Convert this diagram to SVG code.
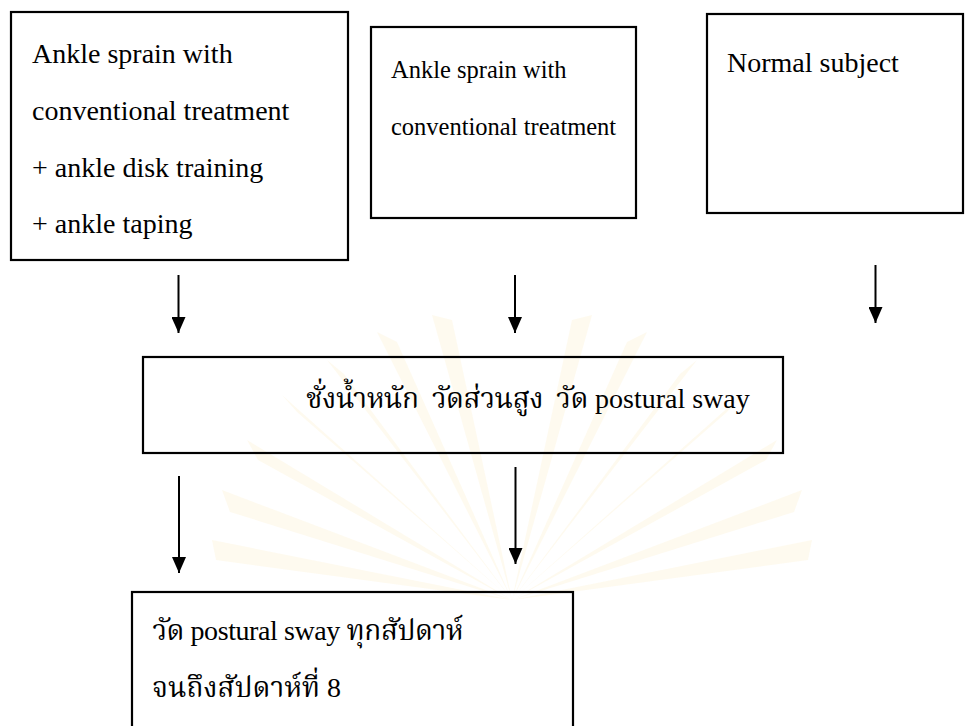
<svg xmlns="http://www.w3.org/2000/svg" width="965" height="726" viewBox="0 0 965 726">
<defs>
<style>
.box{fill:none;stroke:#000;stroke-width:2.2}
.t{font-family:"Liberation Serif","Times New Roman",serif;font-size:28px;fill:#000}
.t2{font-family:"Liberation Serif","Times New Roman",serif;font-size:24.5px;fill:#000}
.th{font-family:"Liberation Serif","Noto Serif Thai","Noto Sans Thai","DejaVu Serif",serif;font-size:28px;fill:#000;white-space:pre}
.ln{stroke:#000;stroke-width:2;fill:none}
.ray{fill:#fcf4dc;opacity:0.45}
</style>
<marker id="ah" viewBox="0 0 16 14" refX="16" refY="7" markerWidth="16" markerHeight="14" markerUnits="userSpaceOnUse" orient="auto">
<path d="M0,0 L16,7 L0,14 Z" fill="#000"/>
</marker>
</defs>
<rect width="965" height="726" fill="#fff"/>
<g id="watermark">
<g transform="translate(512,600)">
<path class="ray" d="M0,0 L-300,-60 L-296,-40 Z"/>
<path class="ray" d="M0,0 L-290,-110 L-282,-88 Z"/>
<path class="ray" d="M0,0 L-265,-160 L-254,-140 Z"/>
<path class="ray" d="M0,0 L-230,-205 L-215,-188 Z"/>
<path class="ray" d="M0,0 L-185,-240 L-168,-226 Z"/>
<path class="ray" d="M0,0 L-135,-268 L-115,-258 Z"/>
<path class="ray" d="M0,0 L-80,-285 L-60,-280 Z"/>
<path class="ray" d="M0,0 L300,-60 L296,-40 Z"/>
<path class="ray" d="M0,0 L290,-110 L282,-88 Z"/>
<path class="ray" d="M0,0 L265,-160 L254,-140 Z"/>
<path class="ray" d="M0,0 L230,-205 L215,-188 Z"/>
<path class="ray" d="M0,0 L185,-240 L168,-226 Z"/>
<path class="ray" d="M0,0 L135,-268 L115,-258 Z"/>
<path class="ray" d="M0,0 L80,-285 L60,-280 Z"/>
</g>
</g>
<g id="connectors">
<line class="ln" x1="178.5" y1="275" x2="178.5" y2="333" marker-end="url(#ah)"/>
<line class="ln" x1="515" y1="275" x2="515" y2="333" marker-end="url(#ah)"/>
<line class="ln" x1="875.5" y1="265" x2="875.5" y2="323" marker-end="url(#ah)"/>
<line class="ln" x1="179" y1="476" x2="179" y2="573" marker-end="url(#ah)"/>
<line class="ln" x1="515.5" y1="467" x2="515.5" y2="564" marker-end="url(#ah)"/>
</g>
<g id="node-sprain-training">
<rect class="box" x="11" y="12" width="337" height="248"/>
<text class="t" x="32" y="63">Ankle sprain with</text>
<text class="t" x="32" y="120">conventional treatment</text>
<text class="t" x="32" y="177">+ ankle disk training</text>
<text class="t" x="32" y="233">+ ankle taping</text>
</g>
<g id="node-sprain-conventional">
<rect class="box" x="371" y="27" width="265" height="191"/>
<text class="t2" x="391" y="78">Ankle sprain with</text>
<text class="t2" x="391" y="135">conventional treatment</text>
</g>
<g id="node-normal">
<rect class="box" x="707" y="14" width="256" height="199"/>
<text class="t" x="727" y="72">Normal subject</text>
</g>
<g id="node-measure">
<rect class="box" x="143" y="357" width="640" height="96"/>
<text class="th" x="306" y="408"><tspan textLength="282" lengthAdjust="spacing">ชั่งน้ำหนัก  วัดส่วนสูง  วัด</tspan><tspan x="595">postural sway</tspan></text>
</g>
<g id="node-weekly">
<rect class="box" x="132" y="592" width="441" height="150"/>
<text class="th" x="152" y="640" textLength="311" lengthAdjust="spacing">วัด postural sway ทุกสัปดาห์</text>
<text class="th" x="152" y="697">จนถึงสัปดาห์ที่ 8</text>
</g>
</svg>
